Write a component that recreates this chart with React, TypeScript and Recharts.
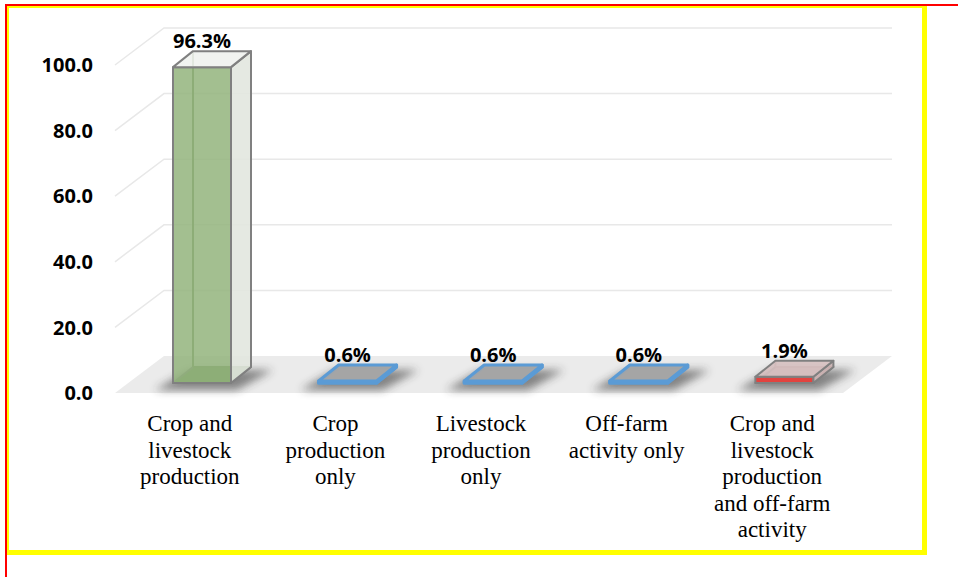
import { BarChart, Bar, XAxis, YAxis, CartesianGrid, LabelList } from "recharts";

const CATEGORIES = [
  "Crop and livestock production",
  "Crop production only",
  "Livestock production only",
  "Off-farm activity only",
  "Crop and livestock production and off-farm activity",
];

// how each category label wraps under the axis
const CATEGORY_LINES = [
  ["Crop and", "livestock", "production"],
  ["Crop", "production", "only"],
  ["Livestock", "production", "only"],
  ["Off-farm", "activity only"],
  ["Crop and", "livestock", "production", "and off-farm", "activity"],
];

const SHARES = [96.3, 0.6, 0.6, 0.6, 1.9];

const Y_TICKS = [0, 20, 40, 60, 80, 100];

const data = CATEGORIES.map((name, i) => ({ name, share: SHARES[i] }));

const W = 958;
const H = 577;
const MARGIN = { top: 65, right: 115, left: 0, bottom: 0 };
const X_AXIS_H = 184;
const PLOT_BOTTOM = H - X_AXIS_H;

// fake 3d: floor depth, where the bars sit on it, and bar depth
const FLOOR = { dx: 49, dy: -37 };
const SHIFT = { dx: 14, dy: -10 };
const DEPTH = { dx: 20, dy: -16 };

const BAR_LOOKS = [
  { front: "#93b47c", frontOpacity: 0.85, bottom: "#6f8f5a", inner: "#6a8756", side: "#e2e7df", top: "#f0f2ee", edge: "#808080", edgeWidth: 2 },
  { front: "#a5a5a5", frontOpacity: 1, bottom: "#a5a5a5", inner: "#a5a5a5", side: "#a5a5a5", top: "#a5a5a5", edge: "#5b9bd5", edgeWidth: 3 },
  { front: "#a5a5a5", frontOpacity: 1, bottom: "#a5a5a5", inner: "#a5a5a5", side: "#a5a5a5", top: "#a5a5a5", edge: "#5b9bd5", edgeWidth: 3 },
  { front: "#a5a5a5", frontOpacity: 1, bottom: "#a5a5a5", inner: "#a5a5a5", side: "#a5a5a5", top: "#a5a5a5", edge: "#5b9bd5", edgeWidth: 3 },
  { front: "#e2433f", frontOpacity: 1, bottom: "#c9b0b0", inner: "#a89090", side: "#c9b1b1", top: "#d6c0c0", edge: "#808080", edgeWidth: 2 },
];

const pts = (list: number[][]) => list.map((p) => p.join(",")).join(" ");

function BoxBar(props: any) {
  const { x, y, width, height, index } = props;
  const look = BAR_LOOKS[index];
  const fx = x + SHIFT.dx;
  const ft = y + SHIFT.dy;
  const fb = y + height + SHIFT.dy;
  const w = width;
  const { dx, dy } = DEPTH;
  const stroke = { stroke: look.edge, strokeWidth: look.edgeWidth, strokeLinejoin: "round" as const };
  return (
    <g>
      <polygon
        points={pts([[fx - 18, fb + 7], [fx + w + 6, fb + 7], [fx + w + dx + 22, fb + dy + 3], [fx + dx - 4, fb + dy + 3]])}
        fill="#2e2e2e"
        opacity={0.55}
        filter="url(#floorShadow)"
      />
      <polygon points={pts([[fx, fb], [fx + dx, fb + dy], [fx + w + dx, fb + dy], [fx + w, fb]])} fill={look.bottom} {...stroke} />
      <line x1={fx + dx} y1={fb + dy} x2={fx + dx} y2={ft + dy} stroke={look.inner} strokeWidth={2} />
      <line x1={fx + dx} y1={fb + dy} x2={fx + w + dx} y2={fb + dy} stroke={look.inner} strokeWidth={2} />
      <rect x={fx} y={ft} width={w} height={fb - ft} fill={look.front} fillOpacity={look.frontOpacity} {...stroke} />
      <polygon points={pts([[fx + w, ft], [fx + w + dx, ft + dy], [fx + w + dx, fb + dy], [fx + w, fb]])} fill={look.side} fillOpacity={0.9} {...stroke} />
      <polygon points={pts([[fx, ft], [fx + dx, ft + dy], [fx + w + dx, ft + dy], [fx + w, ft]])} fill={look.top} fillOpacity={0.9} {...stroke} />
    </g>
  );
}

function gridLine(p: any) {
  const { x1, x2, y1, index } = p;
  if (Math.abs(y1 - PLOT_BOTTOM) < 0.5) {
    return (
      <polygon
        key={`floor-${index}`}
        points={pts([[x1, y1], [x1 + FLOOR.dx, y1 + FLOOR.dy], [x2 + FLOOR.dx, y1 + FLOOR.dy], [x2, y1]])}
        fill="#ebebeb"
      />
    );
  }
  return (
    <path
      key={`grid-${index}`}
      d={`M${x1},${y1} L${x1 + FLOOR.dx},${y1 + FLOOR.dy} L${x2 + FLOOR.dx},${y1 + FLOOR.dy}`}
      stroke="#e8e8e8"
      strokeWidth={1.5}
      fill="none"
    />
  );
}

function CategoryTick(props: any) {
  const { x, y, index } = props;
  const lines = CATEGORY_LINES[index] || [];
  return (
    <text x={x + 2} y={y} textAnchor="middle" fontFamily="'Liberation Serif', serif" fontSize={23} fill="#000">
      {lines.map((line, i) => (
        <tspan key={line} x={x + 2} dy={i === 0 ? 38 : 26.5}>
          {line}
        </tspan>
      ))}
    </text>
  );
}

function ShareLabel(props: any) {
  const { x, y, width, value } = props;
  return (
    <text
      x={x + SHIFT.dx + width / 2}
      y={y + SHIFT.dy - 19}
      textAnchor="middle"
      fontFamily="'Open Sans', sans-serif"
      fontWeight={700}
      fontSize={20}
      fill="#000"
    >
      {`${Number(value).toFixed(1)}%`}
    </text>
  );
}

export default function App() {
  return (
    <div style={{ position: "absolute", left: 0, top: 0, width: W, height: H, background: "#fff" }}>
      <svg width={0} height={0} style={{ position: "absolute" }}>
        <defs>
          <filter id="floorShadow" x="-50%" y="-100%" width="200%" height="300%">
            <feGaussianBlur stdDeviation="4" />
          </filter>
        </defs>
      </svg>
      <BarChart width={W} height={H} data={data} margin={MARGIN} barSize={58}>
        <CartesianGrid vertical={false} horizontal={gridLine} />
        <XAxis
          dataKey="name"
          axisLine={false}
          tickLine={false}
          tickSize={0}
          tickMargin={0}
          interval={0}
          height={X_AXIS_H}
          tick={CategoryTick}
        />
        <YAxis
          domain={[0, 100]}
          ticks={Y_TICKS}
          width={115}
          axisLine={false}
          tickLine={false}
          tickSize={0}
          tickMargin={22}
          tickFormatter={(v: number) => v.toFixed(1)}
          tick={{ fontFamily: "'Open Sans', sans-serif", fontWeight: 700, fontSize: 20, fill: "#000" }}
        />
        <Bar dataKey="share" shape={BoxBar} isAnimationActive={false}>
          <LabelList dataKey="share" content={ShareLabel} />
        </Bar>
      </BarChart>
      <div
        style={{
          position: "absolute",
          left: 7,
          top: 6,
          width: 920,
          height: 549,
          boxSizing: "border-box",
          borderTop: "2px solid #ffff00",
          borderLeft: "2px solid #ffff00",
          borderRight: "5px solid #ffff00",
          borderBottom: "5px solid #ffff00",
        }}
      />
      <div style={{ position: "absolute", left: 6, top: 4, width: 952, height: 2, background: "#ff0000" }} />
      <div style={{ position: "absolute", left: 5, top: 4, width: 2, height: 573, background: "#ff0000" }} />
    </div>
  );
}
